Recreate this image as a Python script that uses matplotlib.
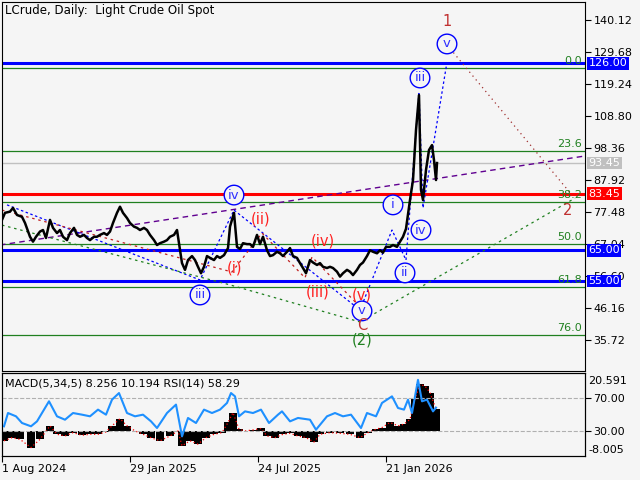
import matplotlib
matplotlib.use("Agg")
import matplotlib.pyplot as plt
import matplotlib.transforms as mtrans

# ---- data (x in bar positions) ----
px = [2,5,10,13,17,22,25,30,33,36,40,43,46,50,53,57,60,63,67,70,74,77,80,84,87,90,94,97,100,104,107,110,113,117,120,123,127,130,134,137,140,144,147,150,154,157,160,164,167,170,174,177,180,182,185,188,192,195,198,201,204,207,210,214,217,220,224,228,230,234,237,240,243,247,250,253,257,260,263,267,270,273,277,280,283,287,290,293,297,300,303,306,310,313,317,320,323,327,330,333,337,340,343,347,350,353,357,360,363,367,370,373,377,380,383,386,390,393,397,400,403,406,410,413,416,419,421,423,426,429,432,434,436,437]
close = [74.9,77.2,77.6,78.8,76.5,75.9,73.9,69.4,67.8,69.4,71.1,71.6,69.0,74.9,72.3,70.6,71.6,69.4,68.3,70.6,72.3,70.0,69.4,70.0,69.0,68.3,69.4,69.4,70.0,70.6,70.0,71.1,73.9,77.2,79.2,77.2,75.5,73.9,72.7,72.3,71.6,72.3,71.6,70.0,68.3,66.7,67.3,67.8,68.3,69.4,70.0,71.6,65.0,60.8,58.6,61.8,63.1,61.8,59.6,57.5,59.6,63.1,62.5,61.8,63.1,62.5,63.4,65.7,72.7,77.2,66.1,65.4,67.3,67.0,67.0,66.1,70.0,67.0,69.4,65.0,63.1,63.4,64.5,64.0,63.1,64.5,65.7,63.1,62.5,60.8,59.2,57.5,61.8,61.0,60.2,60.8,59.6,59.2,59.6,59.2,58.0,56.4,57.5,58.6,58.0,56.9,58.6,60.2,61.0,63.1,65.0,64.5,64.0,65.0,64.2,66.1,66.1,66.7,66.1,67.8,69.4,72.0,81.4,87.9,104.2,115.6,84.7,81.4,91.2,97.7,99.3,94.4,87.9,93.45]

rsi_x = [4,8,16,22,31,37,49,57,65,73,82,90,98,106,112,119,127,135,143,151,157,167,176,182,188,196,204,212,220,227,231,235,239,245,253,261,269,278,282,290,298,310,316,327,335,343,351,361,367,376,382,392,398,404,408,412,418,422,427,433,436]
rsi = [35.7,51.8,47.8,39.7,35.7,41.7,66,47.8,43.7,51.8,49.8,47.8,55.9,49.8,68,76,51.8,47.8,49.8,41.7,33.6,51.8,62,23.5,45.8,39.7,55.9,51.8,55.9,64,76,72,47.8,53.8,51.8,55.9,39.7,49.8,53.8,41.7,45.8,43.7,31.6,47.8,51.8,47.8,49.8,33.6,51.8,47.8,64,72,57.9,55.9,68,51.8,92,66,68,53.8,58.29]

macd_x = [4,12,20,31,40,50,57,65,73,82,90,98,106,112,120,127,135,143,151,160,170,178,182,190,198,206,214,222,228,233,239,245,253,261,267,275,283,290,298,306,314,320,330,340,350,360,368,376,382,390,398,404,410,415,420,425,430,436]
macd = [-4.1,-2.8,-3.5,-6.9,-3.5,2.1,-1.4,-2.1,-0.7,-1.8,-1.4,-1.4,-0.4,2.1,5.1,2.1,0,-1.4,-2.8,-4.1,-2.1,0,-6.2,-4.1,-5.5,-2.8,-1.4,-0.7,3.5,7.6,0.7,0,0.4,1.0,-2.1,-2.8,-1.4,-1.0,-2.1,-2.8,-4.6,-1.4,-0.7,-1.0,-1.4,-2.8,-0.7,0.7,1.4,3.5,2.1,2.8,4.8,13.1,19.3,18.6,15.9,9.0]

fib_levels = [124.5, 97.4, 80.7, 67.0, 53.0, 37.4]
fib_labels = ["0.0", "23.6", "38.2", "50.0", "61.8", "76.0"]
price_ticks = [140.12,129.68,119.24,108.80,98.36,87.92,77.48,67.04,56.60,46.16,35.72]
marks = [(126.00, "126.00", "#0000ff"), (93.45, "93.45", "#c0c0c0"), (83.45, "83.45", "#ff0000"),
         (65.00, "65.00", "#0000ff"), (55.00, "55.00", "#0000ff")]

blue_wave = ([7,200,234,360,392,406,419,423,447], [79.8,55.3,78.1,45.5,71.6,61.8,116.6,78.8,126.4])
red_wave = ([2,232,262,305,312,360], [78.1,57.9,70.6,56.0,62.8,46.5])
green_wave = ([2,230,360,575], [73.2,53.7,41.6,82.0])
brown_wave = ([447,572], [132.0,83.0])
purple_line = ([0,585], [66.7,95.75])

circ = [("iii",200,50.4),("iv",234,83.0),("v",362,45.2),("i",393,79.8),("ii",405,57.6),
        ("iii",420,121.2),("iv",421,71.6),("v",447,132.3)]
redlab = [("1",447,139.5,"#c03030"),("2",568,78.1,"#c03030"),("(i)",235,59.2,"#ff2020"),
          ("(ii)",261,75.2,"#ff2020"),("(iii)",318,51.4,"#ff2020"),("(iv)",323,68.0,"#ff2020"),
          ("(v)",362,50.3,"#ff2020"),("C",362,40.6,"#c03030"),("(2)",362,35.7,"#208020")]

date_pos = [2,130,258,386]
date_lab = ["1 Aug 2024","29 Jan 2025","24 Jul 2025","21 Jan 2026"]

BG = "#f5f5f5"
fig = plt.figure(figsize=(6.4,4.8), dpi=100, facecolor=BG)
ax = fig.add_axes([2/640, 1-371/480, 583/640, 369/480], facecolor=BG)
ax2 = fig.add_axes([2/640, 1-456/480, 583/640, 83/480], facecolor=BG)
for a in (ax, ax2):
    a.set_xlim(2,585)
    for s in a.spines.values(): s.set_linewidth(0.8)
ax.set_ylim(25.60,145.99)

for lv, lb in zip(fib_levels, fib_labels):
    ax.axhline(lv, color="#208020", lw=0.9)
    ax.text(582, lv+0.6, lb, color="#208020", ha="right", va="bottom", fontsize=8)
ax.axhline(93.45, color="#c0c0c0", lw=1)
for v,_,c in marks:
    if c != "#c0c0c0":
        ax.axhline(v, color=c, lw=2.2)

ax.plot(*purple_line, color="#600090", lw=1, ls=(0,(4,3)))
ax.plot(*blue_wave, color="#0000ff", lw=0.9, ls=(0,(2,2)))
ax.plot(*red_wave, color="#c02020", lw=0.9, ls=(0,(2,3)))
ax.plot(*green_wave, color="#208020", lw=0.9, ls=(0,(2,3)))
ax.plot(*brown_wave, color="#a03030", lw=0.9, ls=(0,(1,3)))
ax.plot(px, close, color="black", lw=1.8)

for t,x,y in circ:
    ax.text(x,y,t,color="#3030ff",ha="center",va="center",fontsize=9.5,
            bbox=dict(boxstyle="circle,pad=0.25",fc=BG,ec="#0000ff",lw=1))
for t,x,y,c in redlab:
    ax.text(x,y,t,color=c,ha="center",va="center",fontsize=10.5)

ax.yaxis.tick_right()
ax.set_yticks(price_ticks)
ax.set_yticklabels([f"{v:.2f}" for v in price_ticks], fontsize=8)
ax.tick_params(axis="y", length=4, pad=2)
ax.set_xticks([])
tr = mtrans.blended_transform_factory(ax.transAxes, ax.transData)
for v,lb,c in marks:
    ax.text(1.006, v, lb, transform=tr, fontsize=8, color="white", va="center", ha="left",
            bbox=dict(boxstyle="square,pad=0.12", fc=c, ec="none"))
ax.text(0.006, 0.995, "LCrude, Daily:  Light Crude Oil Spot", transform=ax.transAxes,
        fontsize=8.5, va="top", ha="left")

# lower panel
ax2.set_ylim(-10.4, 24)
ax2.bar(macd_x, macd, width=8, color="black", align="center")
ax2.plot(macd_x, macd, color="red", lw=0.9, ls=(0,(1,2)))
ax3 = ax2.twinx()
ax3.set_ylim(-0.3,100.3)
ax3.axhline(70, color="#b0b0b0", lw=0.8, ls="--")
ax3.axhline(30, color="#b0b0b0", lw=0.8, ls="--")
ax3.plot(rsi_x, rsi, color="#1e90ff", lw=1.5)
ax3.set_yticks([70,30]); ax3.set_yticklabels(["70.00","30.00"], fontsize=8)
ax3.tick_params(axis="y", length=4, pad=2)
ax2.set_yticks([]); ax2.yaxis.tick_right()
ax2.text(1.006, 0.9, "20.591", transform=ax2.transAxes, fontsize=8, va="center")
ax2.text(1.006, 0.07, "-8.005", transform=ax2.transAxes, fontsize=8, va="center")
ax2.text(0.006, 0.93, "MACD(5,34,5) 8.256 10.194 RSI(14) 58.29", transform=ax2.transAxes,
         fontsize=8, va="top")
ax2.set_xticks(date_pos)
ax2.set_xticklabels(date_lab, fontsize=8, ha="left")
ax2.tick_params(axis="x", length=4, pad=2)

fig.savefig("out.png", dpi=100, facecolor=BG)
